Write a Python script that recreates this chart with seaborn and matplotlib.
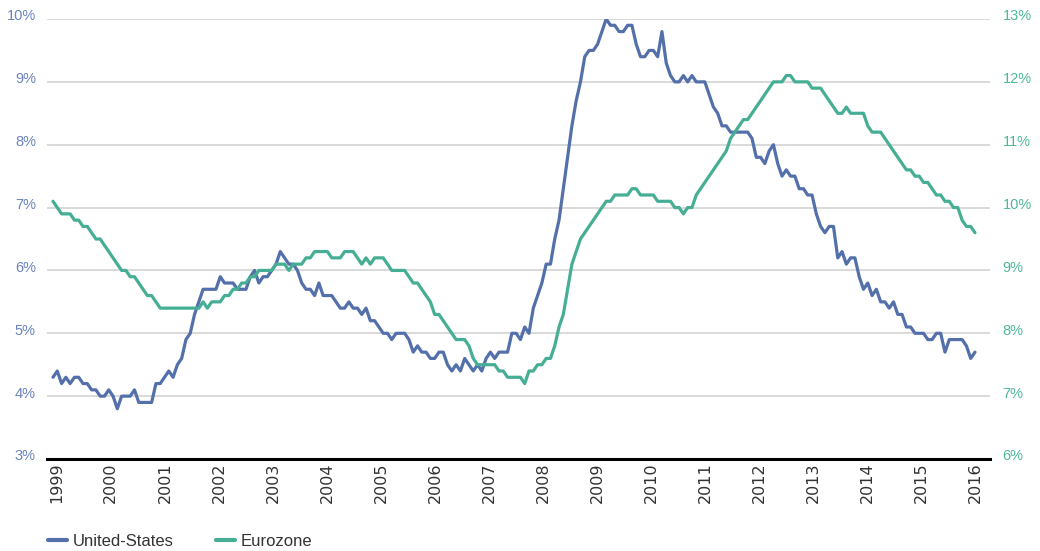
import matplotlib
matplotlib.use("Agg")
import matplotlib.pyplot as plt
import matplotlib.transforms as mtransforms
from matplotlib.lines import Line2D
import numpy as np
import pandas as pd
import seaborn as sns

# ---------------- data ----------------
years = [str(y) for y in range(1999, 2017)]

us_rate = [
    4.3, 4.4, 4.2, 4.3, 4.2, 4.3, 4.3, 4.2, 4.2, 4.1, 4.1, 4.0,   # 1999
    4.0, 4.1, 4.0, 3.8, 4.0, 4.0, 4.0, 4.1, 3.9, 3.9, 3.9, 3.9,   # 2000
    4.2, 4.2, 4.3, 4.4, 4.3, 4.5, 4.6, 4.9, 5.0, 5.3, 5.5, 5.7,   # 2001
    5.7, 5.7, 5.7, 5.9, 5.8, 5.8, 5.8, 5.7, 5.7, 5.7, 5.9, 6.0,   # 2002
    5.8, 5.9, 5.9, 6.0, 6.1, 6.3, 6.2, 6.1, 6.1, 6.0, 5.8, 5.7,   # 2003
    5.7, 5.6, 5.8, 5.6, 5.6, 5.6, 5.5, 5.4, 5.4, 5.5, 5.4, 5.4,   # 2004
    5.3, 5.4, 5.2, 5.2, 5.1, 5.0, 5.0, 4.9, 5.0, 5.0, 5.0, 4.9,   # 2005
    4.7, 4.8, 4.7, 4.7, 4.6, 4.6, 4.7, 4.7, 4.5, 4.4, 4.5, 4.4,   # 2006
    4.6, 4.5, 4.4, 4.5, 4.4, 4.6, 4.7, 4.6, 4.7, 4.7, 4.7, 5.0,   # 2007
    5.0, 4.9, 5.1, 5.0, 5.4, 5.6, 5.8, 6.1, 6.1, 6.5, 6.8, 7.3,   # 2008
    7.8, 8.3, 8.7, 9.0, 9.4, 9.5, 9.5, 9.6, 9.8, 10.0, 9.9, 9.9,  # 2009
    9.8, 9.8, 9.9, 9.9, 9.6, 9.4, 9.4, 9.5, 9.5, 9.4, 9.8, 9.3,   # 2010
    9.1, 9.0, 9.0, 9.1, 9.0, 9.1, 9.0, 9.0, 9.0, 8.8, 8.6, 8.5,   # 2011
    8.3, 8.3, 8.2, 8.2, 8.2, 8.2, 8.2, 8.1, 7.8, 7.8, 7.7, 7.9,   # 2012
    8.0, 7.7, 7.5, 7.6, 7.5, 7.5, 7.3, 7.3, 7.2, 7.2, 6.9, 6.7,   # 2013
    6.6, 6.7, 6.7, 6.2, 6.3, 6.1, 6.2, 6.2, 5.9, 5.7, 5.8, 5.6,   # 2014
    5.7, 5.5, 5.5, 5.4, 5.5, 5.3, 5.3, 5.1, 5.1, 5.0, 5.0, 5.0,   # 2015
    4.9, 4.9, 5.0, 5.0, 4.7, 4.9, 4.9, 4.9, 4.9, 4.8, 4.6, 4.7,   # 2016
]

euro_rate = [
    10.1, 10.0, 9.9, 9.9, 9.9, 9.8, 9.8, 9.7, 9.7, 9.6, 9.5, 9.5,         # 1999
    9.4, 9.3, 9.2, 9.1, 9.0, 9.0, 8.9, 8.9, 8.8, 8.7, 8.6, 8.6,           # 2000
    8.5, 8.4, 8.4, 8.4, 8.4, 8.4, 8.4, 8.4, 8.4, 8.4, 8.4, 8.5,           # 2001
    8.4, 8.5, 8.5, 8.5, 8.6, 8.6, 8.7, 8.7, 8.8, 8.8, 8.9, 8.9,           # 2002
    9.0, 9.0, 9.0, 9.0, 9.1, 9.1, 9.1, 9.0, 9.1, 9.1, 9.1, 9.2,           # 2003
    9.2, 9.3, 9.3, 9.3, 9.3, 9.2, 9.2, 9.2, 9.3, 9.3, 9.3, 9.2,           # 2004
    9.1, 9.2, 9.1, 9.2, 9.2, 9.2, 9.1, 9.0, 9.0, 9.0, 9.0, 8.9,           # 2005
    8.8, 8.8, 8.7, 8.6, 8.5, 8.3, 8.3, 8.2, 8.1, 8.0, 7.9, 7.9,           # 2006
    7.9, 7.8, 7.6, 7.5, 7.5, 7.5, 7.5, 7.5, 7.4, 7.4, 7.3, 7.3,           # 2007
    7.3, 7.3, 7.2, 7.4, 7.4, 7.5, 7.5, 7.6, 7.6, 7.8, 8.1, 8.3,           # 2008
    8.7, 9.1, 9.3, 9.5, 9.6, 9.7, 9.8, 9.9, 10.0, 10.1, 10.1, 10.2,       # 2009
    10.2, 10.2, 10.2, 10.3, 10.3, 10.2, 10.2, 10.2, 10.2, 10.1, 10.1, 10.1,  # 2010
    10.1, 10.0, 10.0, 9.9, 10.0, 10.0, 10.2, 10.3, 10.4, 10.5, 10.6, 10.7,   # 2011
    10.8, 10.9, 11.1, 11.2, 11.3, 11.4, 11.4, 11.5, 11.6, 11.7, 11.8, 11.9,  # 2012
    12.0, 12.0, 12.0, 12.1, 12.1, 12.0, 12.0, 12.0, 12.0, 11.9, 11.9, 11.9,  # 2013
    11.8, 11.7, 11.6, 11.5, 11.5, 11.6, 11.5, 11.5, 11.5, 11.5, 11.3, 11.2,  # 2014
    11.2, 11.2, 11.1, 11.0, 10.9, 10.8, 10.7, 10.6, 10.6, 10.5, 10.5, 10.4,  # 2015
    10.4, 10.3, 10.2, 10.2, 10.1, 10.1, 10.0, 10.0, 9.8, 9.7, 9.7, 9.6,      # 2016
]

left_ticks = [3, 4, 5, 6, 7, 8, 9, 10]
right_ticks = [6, 7, 8, 9, 10, 11, 12, 13]

# ---------------- styling ----------------
sns.set_style("white")
plt.rcParams["font.family"] = ["Liberation Sans", "DejaVu Sans"]

US_COLOR = "#5470AA"
EU_COLOR = "#46AE95"
US_LABEL_COLOR = "#6A83BF"
EU_LABEL_COLOR = "#4DB89A"

n = len(us_rate)
df = pd.DataFrame({"idx": np.arange(n), "us": us_rate, "euro": euro_rate})

W, H = 1040, 551
fig = plt.figure(figsize=(W / 100, H / 100), dpi=100)
ax = fig.add_axes([47 / W, 1 - 459 / H, (990 - 47) / W, (459 - 19) / H])

sns.lineplot(data=df, x="idx", y="us", ax=ax, color=US_COLOR, linewidth=2.3)
ax.set_ylim(3, 10)
ax.set_xlim(-1.4, n - 1 + 3.5)
ax.set_yticks(left_ticks)
ax.set_yticklabels([f"{t}%" for t in left_ticks])
ax.yaxis.grid(True, color="#D0D0D0", linewidth=1.1)
ax.xaxis.grid(False)
ax.set_axisbelow(True)
for s in ["top", "left", "right"]:
    ax.spines[s].set_visible(False)
ax.spines["bottom"].set_color("black")
ax.spines["bottom"].set_linewidth(2.2)
ax.set_xlabel("")
ax.set_ylabel("")

tick_pos = np.linspace(0.9, n - 1, len(years))
ax.set_xticks(tick_pos)
ax.set_xticklabels(years, rotation=90, fontsize=11.5, color="#333333",
                   family=["DejaVu Sans"])
ax.tick_params(axis="x", length=0, pad=2.5)
ax.tick_params(axis="y", length=0, pad=8, labelsize=10.5, labelcolor=US_LABEL_COLOR)

ax2 = ax.twinx()
sns.lineplot(data=df, x="idx", y="euro", ax=ax2, color=EU_COLOR, linewidth=2.3)
ax2.set_ylim(6, 13)
ax2.set_yticks(right_ticks)
ax2.set_yticklabels([f"{t}%" for t in right_ticks])
ax2.grid(False)
for s in ["top", "left", "right", "bottom"]:
    ax2.spines[s].set_visible(False)
ax2.tick_params(axis="y", length=0, pad=9, labelsize=10.5, labelcolor=EU_LABEL_COLOR)
ax2.set_ylabel("")

# nudge y tick labels slightly upward
up = mtransforms.ScaledTranslation(0, 4 / 100, fig.dpi_scale_trans)
for lab in ax.get_yticklabels() + ax2.get_yticklabels():
    lab.set_transform(lab.get_transform() + up)

handles = [Line2D([0], [0], color=US_COLOR, lw=3),
           Line2D([0], [0], color=EU_COLOR, lw=3)]
fig.legend(handles, ["United-States", "Eurozone"], loc="center left",
           bbox_to_anchor=(33 / W, 1 - 541 / H), ncol=2, frameon=False,
           handlelength=1.15, handletextpad=0.35, columnspacing=2.5,
           prop={"family": ["Liberation Sans"], "size": 12},
           labelcolor="#333333")

fig.savefig("out.png", dpi=100)
